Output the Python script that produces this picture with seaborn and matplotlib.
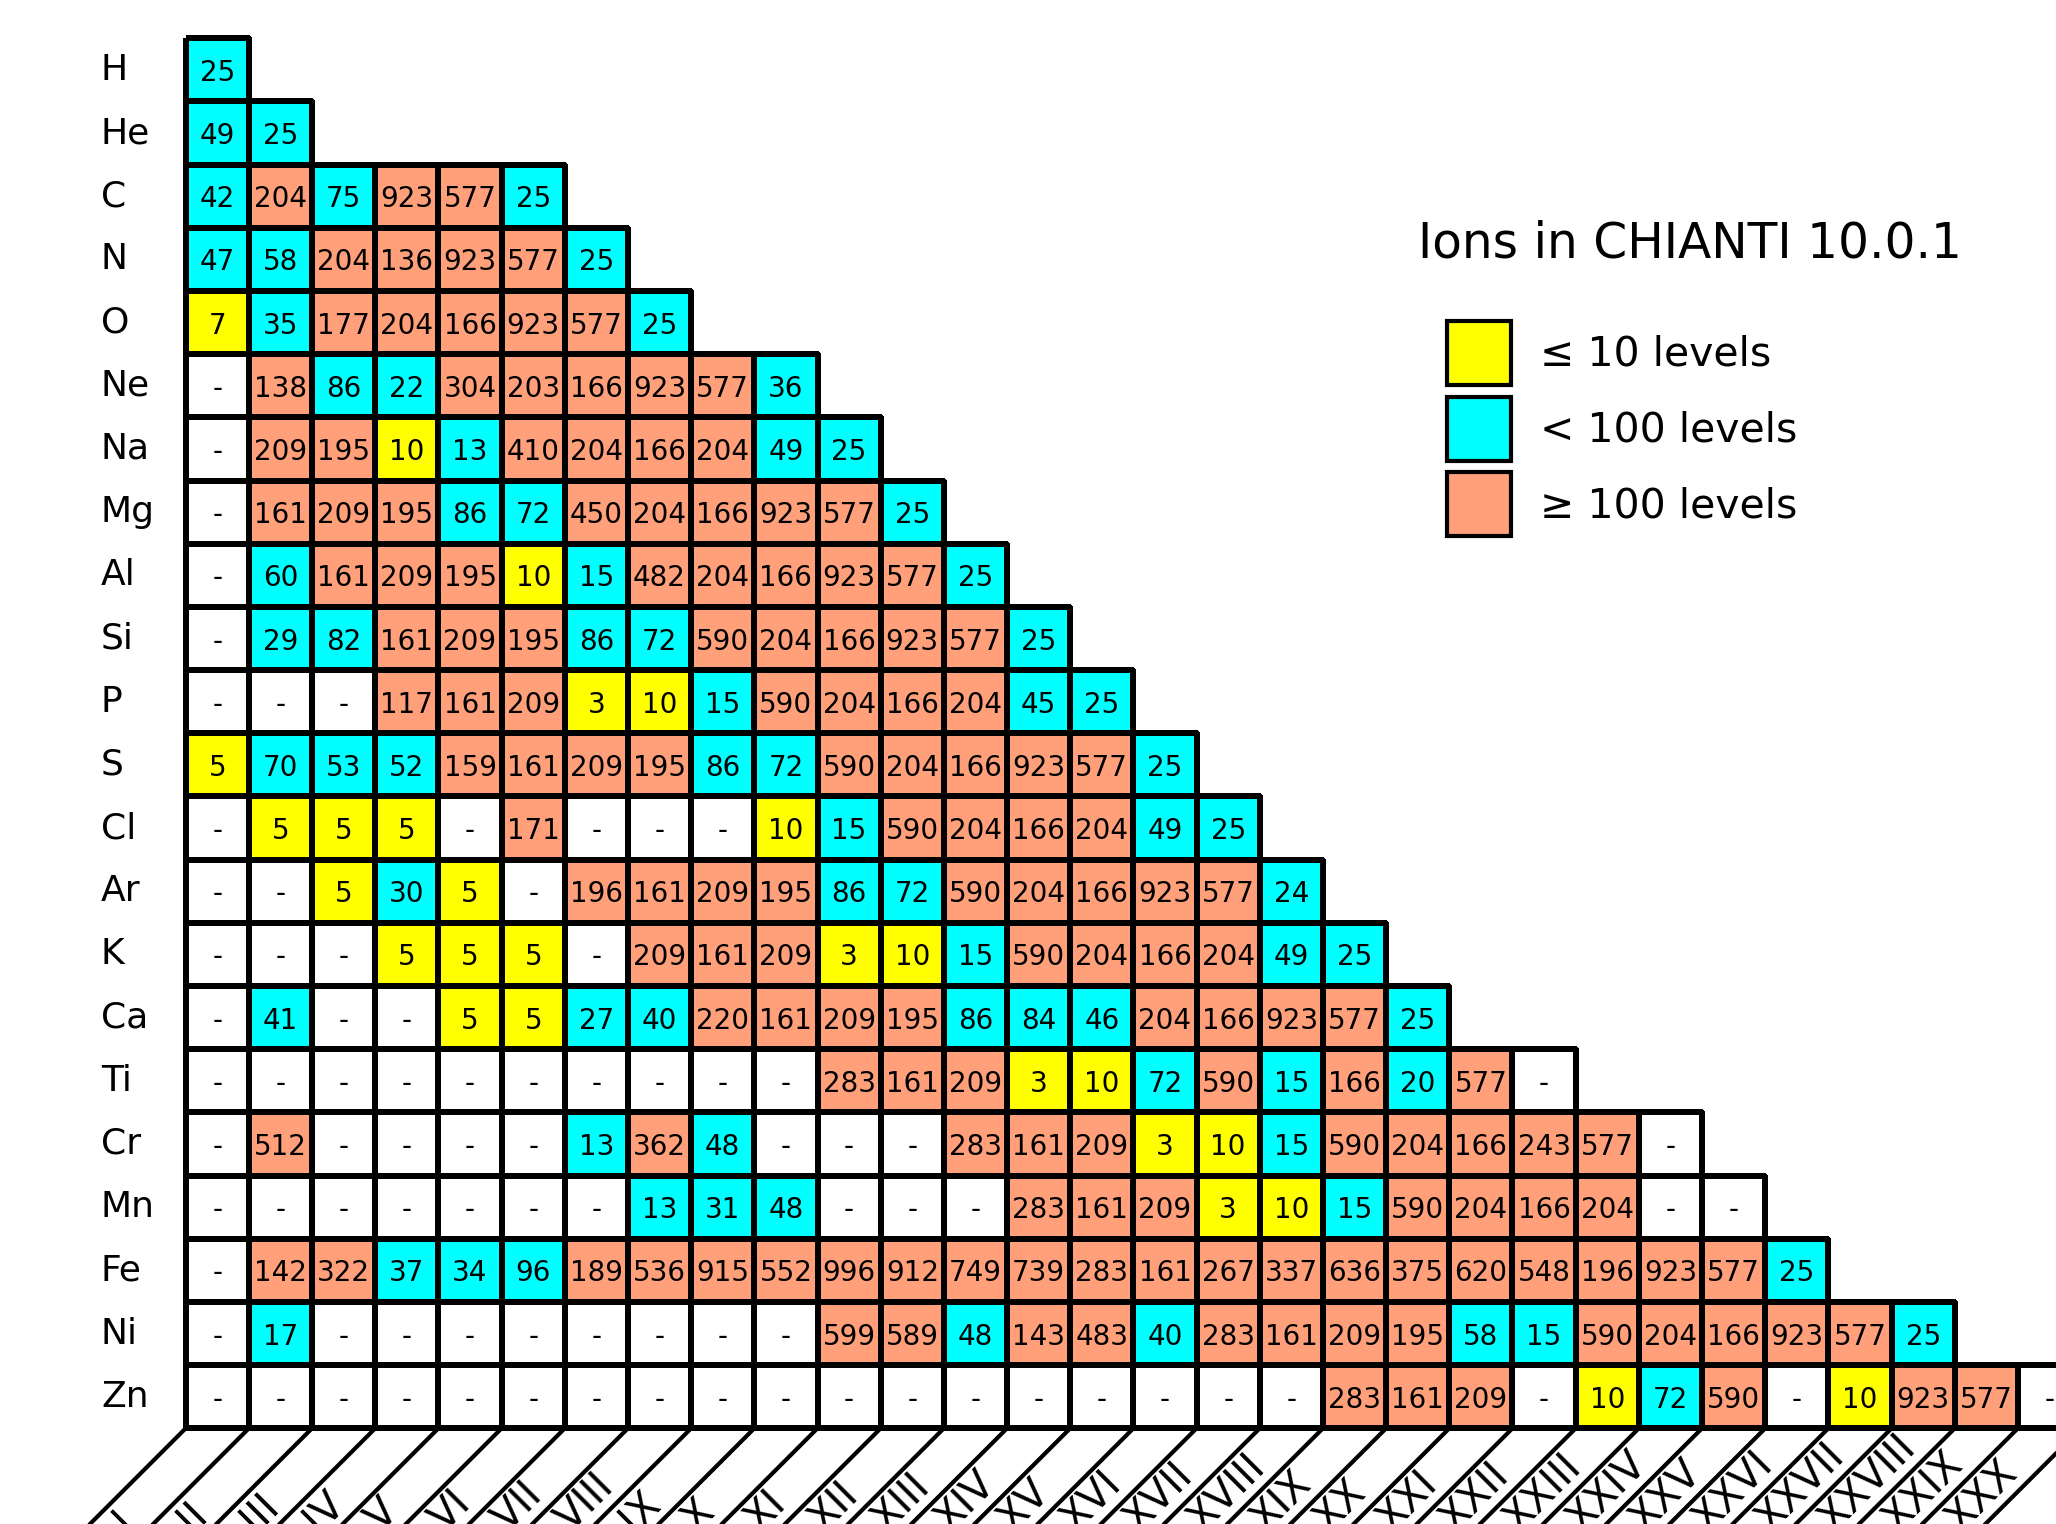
import numpy as np
import matplotlib
matplotlib.use("Agg")
import matplotlib.pyplot as plt
from matplotlib.colors import ListedColormap
from matplotlib.patches import Patch
import seaborn as sns

# number of energy levels per ion, None = ion not in the database ("-")
elements = ["H", "He", "C", "N", "O", "Ne", "Na", "Mg", "Al", "Si", "P", "S",
            "Cl", "Ar", "K", "Ca", "Ti", "Cr", "Mn", "Fe", "Ni", "Zn"]
stages = ["I", "II", "III", "IV", "V", "VI", "VII", "VIII", "IX", "X",
          "XI", "XII", "XIII", "XIV", "XV", "XVI", "XVII", "XVIII", "XIX", "XX",
          "XXI", "XXII", "XXIII", "XXIV", "XXV", "XXVI", "XXVII", "XXVIII", "XXIX", "XXX"]

H = [25]
He = [49, 25]
C = [42, 204, 75, 923, 577, 25]
N = [47, 58, 204, 136, 923, 577, 25]
O = [7, 35, 177, 204, 166, 923, 577, 25]
Ne = [None, 138, 86, 22, 304, 203, 166, 923, 577, 36]
Na = [None, 209, 195, 10, 13, 410, 204, 166, 204, 49, 25]
Mg = [None, 161, 209, 195, 86, 72, 450, 204, 166, 923, 577, 25]
Al = [None, 60, 161, 209, 195, 10, 15, 482, 204, 166, 923, 577, 25]
Si = [None, 29, 82, 161, 209, 195, 86, 72, 590, 204, 166, 923, 577, 25]
P = [None, None, None, 117, 161, 209, 3, 10, 15, 590, 204, 166, 204, 45, 25]
S = [5, 70, 53, 52, 159, 161, 209, 195, 86, 72, 590, 204, 166, 923, 577, 25]
Cl = [None, 5, 5, 5, None, 171, None, None, None, 10, 15, 590, 204, 166, 204, 49, 25]
Ar = [None, None, 5, 30, 5, None, 196, 161, 209, 195, 86, 72, 590, 204, 166, 923, 577, 24]
K = [None, None, None, 5, 5, 5, None, 209, 161, 209, 3, 10, 15, 590, 204, 166, 204, 49, 25]
Ca = [None, 41, None, None, 5, 5, 27, 40, 220, 161, 209, 195, 86, 84, 46, 204, 166, 923, 577, 25]
Ti = [None] * 10 + [283, 161, 209, 3, 10, 72, 590, 15, 166, 20, 577, None]
Cr = [None, 512, None, None, None, None, 13, 362, 48, None, None, None,
      283, 161, 209, 3, 10, 15, 590, 204, 166, 243, 577, None]
Mn = [None] * 7 + [13, 31, 48, None, None, None,
                   283, 161, 209, 3, 10, 15, 590, 204, 166, 204, None, None]
Fe = [None, 142, 322, 37, 34, 96, 189, 536, 915, 552, 996, 912, 749,
      739, 283, 161, 267, 337, 636, 375, 620, 548, 196, 923, 577, 25]
Ni = [None, 17] + [None] * 8 + [599, 589, 48, 143, 483, 40, 283, 161, 209,
                                195, 58, 15, 590, 204, 166, 923, 577, 25]
Zn = [None] * 18 + [283, 161, 209, None, 10, 72, 590, None, 10, 923, 577, None]

rows = [H, He, C, N, O, Ne, Na, Mg, Al, Si, P, S, Cl, Ar, K, Ca, Ti, Cr, Mn, Fe, Ni, Zn]

legend_labels = ["≤ 10 levels", "< 100 levels", "≥ 100 levels"]
colors = ["white", "yellow", "cyan", "lightsalmon"]

# build category matrix (0 = missing, 1 = <=10, 2 = <100, 3 = >=100) and text
ncol = len(stages)
nrow = len(rows)
cat = np.full((nrow, ncol), np.nan)
txt = np.full((nrow, ncol), "", dtype=object)
for i, r in enumerate(rows):
    for j, v in enumerate(r):
        if v is None:
            cat[i, j] = 0
            txt[i, j] = "-"
        else:
            cat[i, j] = 1 if v <= 10 else (2 if v < 100 else 3)
            txt[i, j] = str(v)
mask = np.isnan(cat)

fig = plt.figure(figsize=(20.56, 15.24), dpi=100)
ax = fig.add_axes([185.7 / 2056, (1524 - 1428.3) / 1524, 30 * 63.18 / 2056, 1390 / 1524])

sns.heatmap(cat, mask=mask, cmap=ListedColormap(colors), vmin=-0.5, vmax=3.5,
            annot=txt, fmt="", cbar=False, linewidths=3, linecolor="black",
            annot_kws={"fontsize": 20, "color": "black", "va": "center_baseline"},
            xticklabels=False, yticklabels=elements, ax=ax)

# only outline the cells that exist (masked quads would still get edges)
mesh = ax.collections[0]
mesh.set_clip_on(False)
edge = np.zeros((mask.size, 4))
edge[~mask.ravel()] = (0, 0, 0, 1)
mesh.set_edgecolors(edge)

ax.set_yticklabels(elements, rotation=0, ha="left", fontsize=26)
ax.tick_params(axis="y", length=0, pad=61)

# slanted boxes for the ionisation stage labels
for k in range(ncol + 1):
    ax.plot([k, k - 3], [nrow, nrow + 3], color="black", lw=3, clip_on=False,
            solid_capstyle="butt")
t0 = 1.53
for k, lab in enumerate(stages):
    ax.text(k + 0.5 - t0, nrow + t0, lab, rotation=45, rotation_mode="anchor",
            ha="left", va="center", fontsize=29, clip_on=False)

fig.text(1418 / 2056, 1 - 257 / 1524, "Ions in CHIANTI 10.0.1", fontsize=35,
         ha="left", va="baseline")

handles = [Patch(facecolor=c, edgecolor="black", linewidth=3) for c in colors[1:]]
fig.legend(handles=handles, labels=legend_labels, loc="upper left",
           bbox_to_anchor=(1447 / 2056, 1 - 321 / 1524), frameon=False,
           fontsize=29.5, handlelength=1.56, handleheight=2.02,
           handletextpad=0.7, labelspacing=0.29, borderpad=0, borderaxespad=0)

fig.savefig("out.png", dpi=100)
